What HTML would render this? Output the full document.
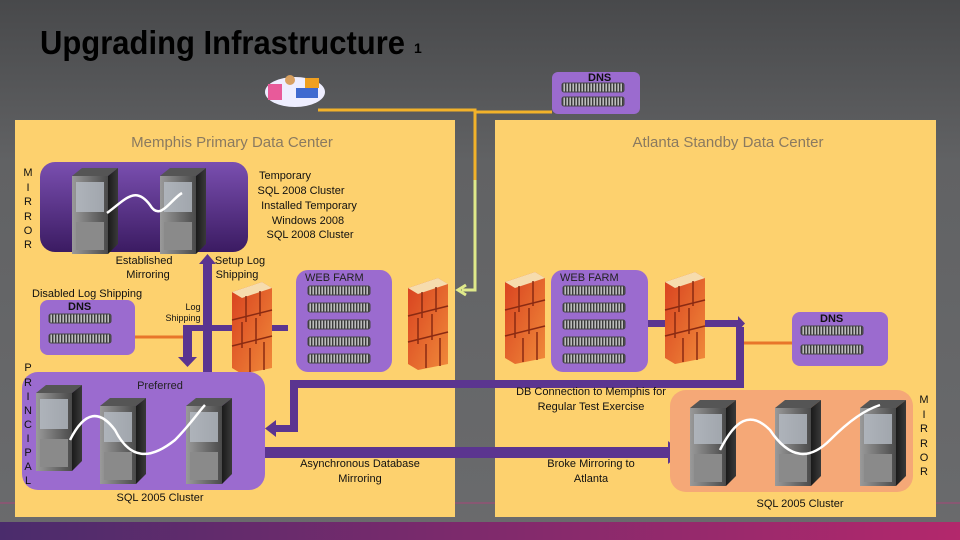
<!DOCTYPE html>
<html><head><meta charset="utf-8"><style>
html,body{margin:0;padding:0}
body{width:960px;height:540px;overflow:hidden;background:#5d5e60}
svg{display:block}
text{font-family:"Liberation Sans",sans-serif}
</style></head><body>
<svg width="960" height="540" viewBox="0 0 960 540" xmlns="http://www.w3.org/2000/svg">
<defs>
<linearGradient id="bg" x1="0" y1="0" x2="0" y2="1"><stop offset="0" stop-color="#48494b"/><stop offset="0.3" stop-color="#616264"/><stop offset="1" stop-color="#6a6b6d"/></linearGradient>
<linearGradient id="band" x1="0" y1="0" x2="1" y2="0"><stop offset="0" stop-color="#4a2c6c"/><stop offset="1" stop-color="#b3286c"/></linearGradient>
<linearGradient id="pbox" x1="0" y1="0" x2="0" y2="1"><stop offset="0" stop-color="#7a4fb0"/><stop offset="1" stop-color="#3b1b62"/></linearGradient>
<pattern id="stripes" width="3" height="10" patternUnits="userSpaceOnUse"><rect width="3" height="10" fill="#bdbdbd"/><rect width="1.4" height="10" fill="#3a3a3a"/></pattern>
<linearGradient id="tw" x1="0" y1="0" x2="1" y2="0"><stop offset="0" stop-color="#9a9a9a"/><stop offset="1" stop-color="#4a4a4a"/></linearGradient>
<linearGradient id="tside" x1="0" y1="0" x2="1" y2="0"><stop offset="0" stop-color="#1a1a1a"/><stop offset="1" stop-color="#3a3a3a"/></linearGradient>
<linearGradient id="brick" x1="0" y1="0" x2="1" y2="1"><stop offset="0" stop-color="#d8401f"/><stop offset="1" stop-color="#f08a3a"/></linearGradient>
<g id="ru"><rect x="0" y="0" width="62" height="9" rx="2" fill="url(#stripes)"/><rect x="0" y="0" width="62" height="9" rx="2" fill="none" stroke="#444" stroke-width="1"/></g>
<g id="tower"><path d="M0 8 L10 0 L46 0 L36 8 Z" fill="#555"/><rect x="0" y="8" width="36" height="78" fill="url(#tw)"/><rect x="4" y="14" width="28" height="30" fill="#b5bcc4" opacity="0.8"/><rect x="4" y="54" width="28" height="28" fill="#8a8a8a"/><path d="M36 8 L46 0 L46 76 L36 86 Z" fill="url(#tside)"/></g>
<g id="fw"><path d="M0 10 L30 0 L40 6 L40 86 L10 92 L0 86 Z" fill="url(#brick)"/><path d="M0 10 L30 0 L40 6 L10 16 Z" fill="#f6dcae"/><path d="M0 38 L40 28 M0 64 L40 54 M14 14 L14 40 M28 9 L28 34 M10 40 L10 66 M24 36 L24 62 M18 66 L18 90 M32 60 L32 88" stroke="#8a2a12" stroke-width="1.5" fill="none"/></g>
</defs>
<rect width="960" height="540" fill="url(#bg)"/>
<rect x="0" y="522" width="960" height="18" fill="url(#band)"/>
<line x1="0" y1="503" x2="960" y2="503" stroke="#a8457a" stroke-width="1"/>
<text x="40" y="54" font-size="33" font-weight="bold" fill="#000" textLength="365" lengthAdjust="spacingAndGlyphs">Upgrading Infrastructure</text>
<text x="414" y="53" font-size="14" font-weight="bold" fill="#000">1</text>

<!-- clipart -->
<g><ellipse cx="295" cy="92" rx="30" ry="15" fill="#eef"/><rect x="268" y="84" width="14" height="16" fill="#e85a9a"/><circle cx="290" cy="80" r="5" fill="#d8a060"/><rect x="296" y="88" width="22" height="10" fill="#3f6ad0"/><rect x="305" y="78" width="14" height="10" fill="#f0a020"/></g>

<!-- panels -->
<rect x="15" y="120" width="440" height="397" fill="#fdd16e"/>
<rect x="495" y="120" width="441" height="397" fill="#fdd16e"/>
<text x="232" y="147" font-size="15" fill="#8a7a60" text-anchor="middle">Memphis  Primary Data Center</text>
<text x="728" y="147" font-size="15" fill="#8a7a60" text-anchor="middle">Atlanta Standby Data Center</text>

<!-- yellow line -->
<path d="M318 110 L475 110 L475 290 L462 290" stroke="#f2b22a" stroke-width="3" fill="none"/>
<path d="M475 112 L552 112" stroke="#f2b22a" stroke-width="3"/>
<path d="M475 180 L475 290 L462 290" stroke="#dfe98a" stroke-width="3" fill="none"/>
<path d="M466 285 L458 290 L466 295" stroke="#dfe98a" stroke-width="3" fill="none"/>

<!-- top DNS -->
<rect x="552" y="72" width="88" height="42" rx="6" fill="#9b6bcf"/>
<text x="588" y="81" font-size="11" font-weight="bold" fill="#111">DNS</text>
<use href="#ru" x="562" y="83"/><use href="#ru" x="562" y="97"/>

<!-- Memphis top box -->
<rect x="40" y="162" width="208" height="90" rx="15" fill="url(#pbox)"/>
<use href="#tower" x="72" y="168"/><use href="#tower" x="160" y="168"/>
<path d="M107 213 C125 200,135 185,150 205 C160 222,170 200,182 193" stroke="#fff" stroke-width="2.5" fill="none"/>
<g font-size="11" fill="#111" text-anchor="middle"><text x="28" y="176">M</text><text x="28" y="191">I</text><text x="28" y="205">R</text><text x="28" y="220">R</text><text x="28" y="234">O</text><text x="28" y="248">R</text></g>
<g font-size="11" fill="#111" text-anchor="middle"><text x="285" y="179">Temporary</text><text x="301" y="194">SQL 2008 Cluster</text><text x="309" y="209">Installed Temporary</text><text x="308" y="224">Windows 2008</text><text x="310" y="238">SQL 2008 Cluster</text></g>
<g font-size="11" fill="#111" text-anchor="middle"><text x="144" y="264">Established</text><text x="148" y="278">Mirroring</text><text x="240" y="264">Setup Log</text><text x="237" y="278">Shipping</text></g>
<text x="32" y="297" font-size="11" fill="#111">Disabled Log Shipping</text>
<g font-size="9" fill="#111" text-anchor="middle"><text x="193" y="310">Log</text><text x="183" y="321">Shipping</text></g>

<!-- Memphis DNS -->
<rect x="40" y="300" width="95" height="55" rx="8" fill="#9b6bcf"/>
<text x="68" y="310" font-size="11" font-weight="bold" fill="#111">DNS</text>
<use href="#ru" x="49" y="314"/><use href="#ru" x="49" y="334"/>
<line x1="135" y1="337" x2="183" y2="337" stroke="#e8752a" stroke-width="3"/>

<!-- arrows memphis -->
<rect x="203" y="262" width="9" height="112" fill="#5b3590"/>
<path d="M199 264 L207.5 254 L216 264 Z" fill="#5b3590"/>
<rect x="183" y="325" width="105" height="6" fill="#5b3590"/>
<rect x="183" y="325" width="9" height="34" fill="#5b3590"/>
<path d="M178 357 L187.5 367 L197 357 Z" fill="#5b3590"/>
<use href="#fw" x="232" y="282"/>

<!-- web farm 1 -->
<rect x="296" y="270" width="96" height="102" rx="12" fill="#9b6bcf"/>
<text x="305" y="281" font-size="11" fill="#222">WEB FARM</text>
<use href="#ru" x="308" y="286"/><use href="#ru" x="308" y="303"/><use href="#ru" x="308" y="320"/><use href="#ru" x="308" y="337"/><use href="#ru" x="308" y="354"/>
<use href="#fw" x="408" y="278"/>

<!-- Atlanta firewalls/web farm -->
<use href="#fw" x="505" y="272"/>
<rect x="551" y="270" width="97" height="102" rx="12" fill="#9b6bcf"/>
<text x="560" y="281" font-size="11" fill="#222">WEB FARM</text>
<use href="#ru" x="563" y="286"/><use href="#ru" x="563" y="303"/><use href="#ru" x="563" y="320"/><use href="#ru" x="563" y="337"/><use href="#ru" x="563" y="354"/>
<rect x="648" y="320" width="92" height="7" fill="#5b3590"/>
<path d="M738 316 L745 323.5 L738 331 Z" fill="#5b3590"/>
<use href="#fw" x="665" y="272"/>
<rect x="736" y="327" width="8" height="58" fill="#5b3590"/>
<line x1="744" y1="343" x2="792" y2="343" stroke="#e8752a" stroke-width="3"/>
<rect x="792" y="312" width="96" height="54" rx="8" fill="#9b6bcf"/>
<text x="820" y="322" font-size="11" font-weight="bold" fill="#111">DNS</text>
<use href="#ru" x="801" y="326"/><use href="#ru" x="801" y="345"/>

<!-- DB connection bar -->
<rect x="290" y="380" width="454" height="8" fill="#5b3590"/>
<rect x="290" y="380" width="8" height="52" fill="#5b3590"/>
<rect x="274" y="425" width="24" height="7" fill="#5b3590"/>
<path d="M276 420 L265 428.5 L276 437 Z" fill="#5b3590"/>

<!-- principal box -->
<rect x="22" y="372" width="243" height="118" rx="16" fill="#9b6bcf"/>
<text x="160" y="389" font-size="11" fill="#222" text-anchor="middle">Preferred</text>
<use href="#tower" x="36" y="385"/>
<use href="#tower" x="100" y="398"/><use href="#tower" x="186" y="398"/>
<path d="M70 440 C85 410,100 410,115 430 C130 460,150 460,175 440 C190 425,200 410,205 405" stroke="#fff" stroke-width="2.5" fill="none"/>
<g font-size="11" fill="#111" text-anchor="middle"><text x="28" y="371">P</text><text x="28" y="386">R</text><text x="28" y="400">I</text><text x="28" y="414">N</text><text x="28" y="428">C</text><text x="28" y="442">I</text><text x="28" y="456">P</text><text x="28" y="470">A</text><text x="28" y="484">L</text></g>
<text x="160" y="501" font-size="11" fill="#111" text-anchor="middle">SQL 2005 Cluster</text>

<!-- big async arrow -->
<rect x="265" y="447" width="405" height="11" fill="#5b3590"/>
<path d="M668 441 L682 452.5 L668 464 Z" fill="#5b3590"/>
<g font-size="11" fill="#111" text-anchor="middle"><text x="360" y="467">Asynchronous Database</text><text x="360" y="482">Mirroring</text><text x="591" y="467">Broke Mirroring to</text><text x="591" y="482">Atlanta</text><text x="591" y="395">DB Connection to Memphis for</text><text x="591" y="410">Regular Test Exercise</text></g>

<!-- mirror box -->
<rect x="670" y="390" width="243" height="102" rx="16" fill="#f5a877"/>
<use href="#tower" x="690" y="400"/><use href="#tower" x="775" y="400"/><use href="#tower" x="860" y="400"/>
<path d="M720 450 C735 420,750 410,770 430 C790 460,810 460,830 440 C850 420,865 410,880 405" stroke="#fff" stroke-width="2.5" fill="none"/>
<g font-size="11" fill="#111" text-anchor="middle"><text x="924" y="403">M</text><text x="924" y="418">I</text><text x="924" y="432">R</text><text x="924" y="447">R</text><text x="924" y="461">O</text><text x="924" y="475">R</text></g>
<text x="800" y="507" font-size="11" fill="#111" text-anchor="middle">SQL 2005 Cluster</text>
</svg>
</body></html>
